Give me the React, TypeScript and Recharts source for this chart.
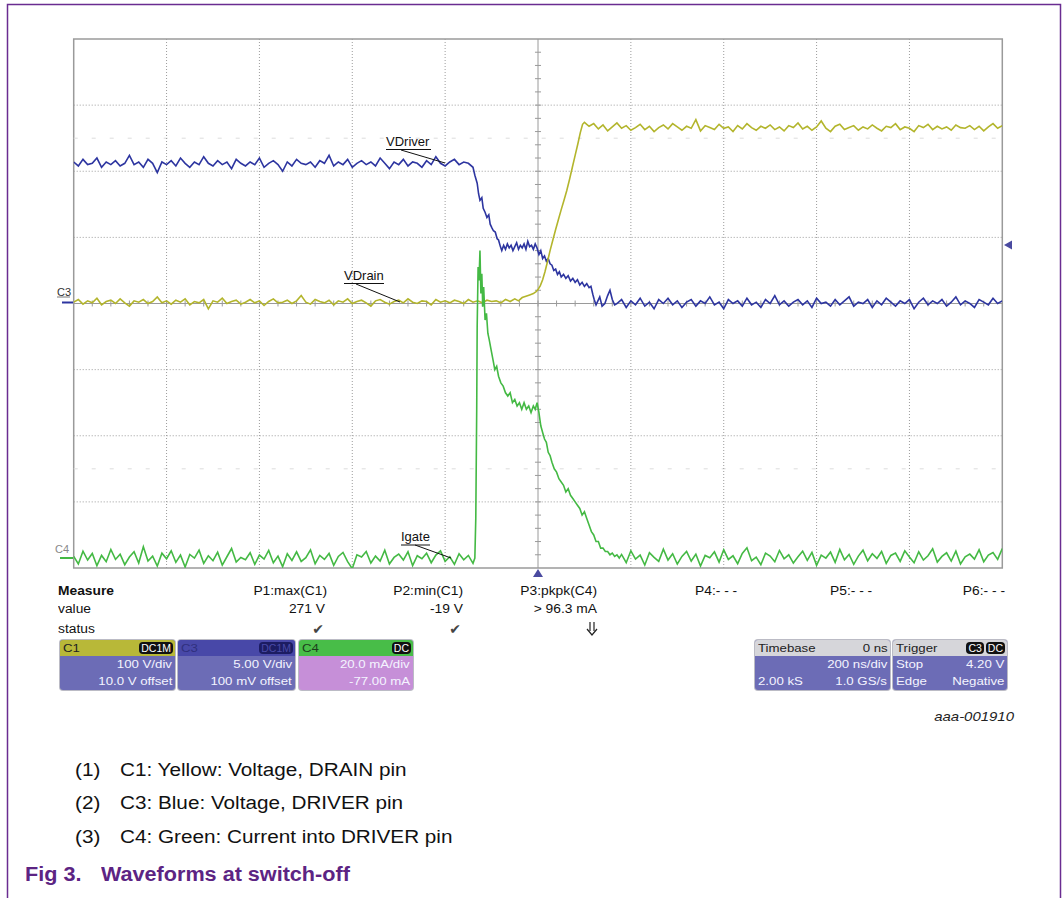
import React from "react";
import { LineChart, Line, XAxis, YAxis, ReferenceLine, ReferenceArea } from "recharts";

// scope capture: 200 ns/div, trigger at centre, 10 ns between stored points
const SAMPLE_NS = 10;
const timeRange = [-1000, 1000];
const divRange = [-4, 4];
const gridTimes = [-800, -600, -400, -200, 200, 400, 600, 800];
const gridDivs = [-3, -2, -1, 1, 2, 3];
const faintDivs = [2.5, -2.5];
const minorTimes = Array.from({ length: 49 }, (_, i) => -960 + i * 40);
const minorDivs = Array.from({ length: 39 }, (_, i) => -3.8 + i * 0.2);

// channel settings from the readout
const C1_SCALE = 100; // V/div
const C1_OFFSET = 10; // V
const C3_SCALE = 5; // V/div
const C3_OFFSET = 0.1; // V
const C4_SCALE = 20; // mA/div
const C4_OFFSET = -77; // mA

// C3 blue, VDriver (V)
const c3Pre = [
  10.6, 10.3, 10.8, 10.4, 10.5, 10.9, 10.2, 10.6, 10.4, 10.7,
  10.3, 10.5, 11.1, 10.4, 10.6, 10.2, 10.8, 10.5, 9.8, 10.6,
  10.4, 10.7, 10.3, 10.9, 10.5, 10.2, 10.6, 10.4, 11.0, 10.5,
  10.3, 10.7, 10.4, 10.6, 10.1, 10.8, 10.5, 10.3, 10.6, 10.4,
  10.9, 10.2, 10.5, 10.7, 10.4, 9.9, 10.6, 10.3, 10.8, 10.5,
  10.4, 10.6, 10.2, 10.7, 10.5, 11.1, 10.3, 10.6, 10.4, 10.8,
  10.2, 10.5, 10.7, 10.4, 10.6, 10.3, 10.9, 10.5, 10.1, 10.6,
  10.4, 10.8, 10.3, 10.6, 10.5, 10.2, 10.7, 10.4, 11.0, 10.5,
  10.3, 10.6, 10.8, 10.4, 10.6, 10.5,
];
const c3MidT = [
  -140, -136, -131, -128, -125, -121, -118, -114, -110, -106,
  -103, -99, -96, -92, -88, -85, -81, -78, -74, -70,
  -66, -62, -58, -54, -50, -46, -42, -38, -34, -30,
  -26, -22, -18, -14, -10, -6, -2, 2, 6, 10,
  14, 18, 22, 26, 30, 34, 38, 42, 46, 50,
  55, 60, 65, 70, 75, 80, 85, 90, 95, 100,
  105, 110, 114, 118, 121, 125, 129, 133, 138, 144,
  150, 155, 160, 165,
];
const c3MidV = [
  10.2, 9.6, 9.0, 8.2, 7.7, 7.9, 7.1, 6.8, 6.4, 6.6,
  5.9, 5.6, 5.4, 5.3, 4.8, 4.7, 4.2, 3.9, 4.3, 4.0,
  4.4, 4.1, 4.3, 3.9, 4.2, 4.5, 4.0, 4.3, 4.1, 4.4,
  4.0, 4.6, 4.2, 4.3, 4.0, 4.4, 4.1, 3.6, 3.9, 3.3,
  3.5, 3.1, 3.3, 2.9, 2.8, 2.4, 2.5, 2.1, 2.3, 1.9,
  2.1, 1.8, 2.0, 1.6, 1.8, 1.5, 1.7, 1.3, 1.5, 1.2,
  1.4, 1.1, 1.2, 0.6, 0.2, -0.2, 0.1, 0.4, -0.3, -0.1,
  0.5, 0.9, 0.2, -0.2,
];
const c3Post = [
  -0.1, 0.2, -0.4, 0.1, -0.2, 0.3, -0.3, 0.0, -0.5, 0.2,
  -0.1, 0.3, -0.2, 0.1, -0.4, 0.0, 0.2, -0.3, 0.1, -0.1,
  0.4, -0.2, 0.0, -0.5, 0.2, -0.1, 0.1, -0.3, 0.3, -0.2,
  0.0, -0.4, 0.2, -0.1, 0.5, -0.2, 0.1, -0.3, 0.0, 0.2,
  -0.2, 0.1, -0.4, 0.3, -0.1, 0.0, -0.3, 0.2, -0.2, 0.1,
  0.4, -0.3, 0.0, -0.1, 0.2, -0.4, 0.1, -0.2, 0.3, 0.0,
  -0.3, 0.1, -0.1, 0.2, -0.5, 0.0, 0.3, -0.2, 0.1, -0.1,
  0.2, -0.3, 0.0, 0.4, -0.2, 0.1, -0.1, -0.4, 0.2, 0.0,
  -0.2, 0.3, -0.1, 0.1,
];

// C1 yellow, VDrain (V)
const c1Pre = [
  -8, -4, -11, -6, -9, -2, -12, -7, -5, -10,
  -3, -9, -14, -6, -8, -4, -10, -7, 0, -9,
  -6, -11, -5, -8, -3, -12, -7, -9, -4, -18,
  -6, -8, -2, -10, -7, -5, -11, -8, -4, -9,
  -6, -13, -7, -3, -9, -8, -5, -10, -6, 2,
  -8, -11, -4, -7, -9, -5, -12, -6, -8, -3,
  -10, -7, -5, -9, -14, -6, -4, -8, -11, -7,
  -5, -9, -3, -8, -10, -6, -7, -12, -4, -8,
  -6, -9, -5, -7, -10, -4, -8, -6, -9, -5, -7,
];
const c1MidT = [
  -90, -80, -70, -60, -50, -42, -34, -26, -18, -10,
  -4, 0, 5, 10, 15, 20, 26, 32, 38, 44,
  50, 56, 62, 68, 74, 80, 86, 91, 96, 100,
];
const c1MidV = [
  -6, -9, -4, -7, -3, -6, -1, 1, 3, 5,
  8, 11, 17, 26, 38, 52, 70, 86, 102, 117,
  132, 146, 161, 178, 196, 214, 232, 248, 261, 264,
];
const c1Post = [
  258, 262, 254, 260, 251, 257, 263, 255, 259, 252,
  256, 261, 253, 258, 250, 256, 260, 254, 262, 257,
  252, 258, 255, 268, 251, 259, 256, 253, 261, 255,
  257, 250, 259, 254, 262, 256, 252, 258, 255, 260,
  253, 257, 251, 259, 256, 263, 254, 258, 252, 257,
  266, 255, 250, 258, 261, 253, 256, 259, 252, 257,
  254, 260, 255, 251, 258, 256, 262, 253, 257, 255,
  250, 259, 256, 261, 253, 258, 254, 257, 252, 260,
  256, 255, 259, 253, 258, 251, 257, 262, 255, 259,
];

// C4 green, Igate (mA)
const c4Pre = [
  0.5, -1.8, 2.1, -0.6, 1.4, -2.3, 0.8, -1.1, 2.6, -0.4,
  1.2, -2.0, 0.3, 1.9, -1.5, 3.4, -0.9, 0.6, -2.4, 1.5,
  -0.2, 2.2, -1.3, 0.9, -2.7, 1.1, 0.0, 2.4, -1.6, 0.7,
  -0.8, 1.8, -2.1, 0.4, 2.9, -1.2, 0.2, -0.5, 1.6, -1.9,
  0.9, -0.3, 2.3, -1.4, 0.6, -2.6, 1.3, -0.7, 1.9, -1.0,
  0.1, 2.5, -1.7, 0.8, -0.4, 1.4, -2.2, 0.5, 1.7, -1.1,
  -3.2, 1.0, 0.3, 2.0, -1.5, 0.6, -0.9, 2.4, -1.8, 0.2,
  1.2, -0.6, 1.9, -2.3, 0.7, -0.2, 1.5, -1.4, 0.9, 2.2,
  -1.0, 0.4, -1.9, 1.3, -0.5, 0.8, -1.6,
];
const c4MidT = [
  -136, -134, -132, -131, -129, -127, -125, -123, -121, -119,
  -117, -114, -111, -108, -105, -101, -97, -93, -89, -85,
  -80, -75, -70, -65, -60, -55, -50, -45, -40, -35,
  -30, -25, -20, -15, -10, -6, -2, 2, 6, 10,
  14, 18, 22, 26, 30, 35, 40, 45, 50, 55,
  60, 65, 70, 75, 80, 85, 90, 95, 100, 105,
  110, 115, 120, 125, 130, 135, 140, 145, 150, 155,
  160, 165, 170, 175,
];
const c4MidV = [
  0, 12, 45, 70, 88, 84, 93, 80, 86, 76,
  82, 72, 74, 68, 66, 63, 60, 57, 58, 55,
  53, 52, 50, 49, 50, 47, 48, 46, 47, 45,
  47, 45, 46, 44, 46, 45, 47, 44, 40, 38,
  36, 35, 32, 31, 29, 27, 26, 24, 23, 22,
  20, 21, 19, 18, 17, 16, 15, 13, 14, 12,
  10, 8, 7, 5, 5, 3, 3, 2, 2, 1,
  1.5, 0.5, 1, 0,
];
const c4Post = [
  1.1, -1.4, 2.2, -0.3, 0.9, -2.1, 1.6, 0.2, -1.0, 2.7,
  -0.6, 1.3, -1.8, 0.5, 2.0, -0.9, 1.2, -2.4, 0.8, 0.1,
  1.9, -1.2, 2.5, -0.4, 0.7, -1.7, 1.4, 3.1, -0.8, 0.3,
  -2.0, 1.5, 0.6, -1.1, 2.3, -0.2, 1.0, -1.5, 0.4, 2.1,
  -0.7, 1.7, -2.2, 0.9, 0.0, 1.8, -1.3, 2.6, -0.5, 1.1,
  -1.9, 0.6, 2.4, -0.8, 1.3, -0.1, 2.0, -1.6, 0.8, 1.5,
  -1.0, 2.2, 0.3, -1.4, 1.9, -0.6, 0.7, 2.8, -1.2, 0.5,
  1.6, -0.9, 2.1, -1.8, 0.4, 1.2, -0.3, 2.5, -1.1, 0.9,
  1.7, -0.4, 2.9,
];

type Pt = { t: number; y: number };

function buildTrace(
  preStart: number, pre: number[],
  midT: number[], midV: number[],
  postStart: number, post: number[],
  scale: number, offset: number
): Pt[] {
  const raw = [
    ...pre.map((v, i) => ({ t: preStart + i * SAMPLE_NS, v })),
    ...midT.map((t, i) => ({ t, v: midV[i] })),
    ...post.map((v, i) => ({ t: postStart + i * SAMPLE_NS, v })),
  ];
  return raw.map((p) => ({ t: p.t, y: (p.v + offset) / scale }));
}

const c3Trace = buildTrace(-1000, c3Pre, c3MidT, c3MidV, 170, c3Post, C3_SCALE, C3_OFFSET);
const c1Trace = buildTrace(-1000, c1Pre, c1MidT, c1MidV, 110, c1Post, C1_SCALE, C1_OFFSET);
const c4Trace = buildTrace(-1000, c4Pre, c4MidT, c4MidV, 180, c4Post, C4_SCALE, C4_OFFSET);

const BLUE = "#2d35a0";
const YELLOW = "#b3b52c";
const GREEN = "#44b944";
const FONT = "'Liberation Sans', Arial, sans-serif";
const SYM_FONT = "'DejaVu Sans', sans-serif";
const SX = 1.15;

// plot rectangle on the page
const PLOT_L = 73.7;
const PLOT_T = 39;
const PLOT_W = 928.6;
const PLOT_H = 529;
const CH_L = 40;
const CH_T = 20;
const CH_W = 1000;
const CH_H = 570;

function Txt({
  x, y, children, align = "left", size = 12, weight = 400, color = "#111", italic = false, sx = SX, family,
}: any) {
  const tr =
    align === "right"
      ? `translateX(-100%) scaleX(${sx})`
      : align === "center"
      ? `translateX(-50%) scaleX(${sx})`
      : `scaleX(${sx})`;
  return (
    <div
      style={{
        position: "absolute",
        left: x,
        top: y - size / 2,
        fontSize: size,
        lineHeight: `${size}px`,
        fontWeight: weight,
        fontStyle: italic ? "italic" : "normal",
        fontFamily: family || FONT,
        color,
        whiteSpace: "nowrap",
        transform: tr,
        transformOrigin: align === "right" ? "right center" : align === "center" ? "center" : "left center",
      }}
    >
      {children}
    </div>
  );
}

function Badge({ text, bg = "#111", color = "#fff" }: any) {
  return (
    <span
      style={{
        background: bg,
        color,
        borderRadius: 4,
        padding: "0 2px",
        fontSize: 10.5,
        lineHeight: "12px",
        height: 12,
        display: "inline-block",
        marginLeft: 2,
      }}
    >
      {text}
    </span>
  );
}

function ScopeBox({ x, w, headBg, headColor, headLeft, headRight, bodyBg, lines }: any) {
  return (
    <div
      style={{
        position: "absolute",
        left: x,
        top: 640,
        width: w,
        height: 50,
        borderRadius: 3,
        overflow: "hidden",
        background: bodyBg,
        boxShadow: "0 0 0 1px rgba(60,60,90,0.35)",
        fontSize: 11.5,
      }}
    >
      <div
        style={{
          height: 16,
          background: headBg,
          color: headColor,
          display: "flex",
          justifyContent: "space-between",
          alignItems: "center",
          padding: "0 2px 0 3px",
        }}
      >
        <span style={{ transform: `scaleX(${SX})`, transformOrigin: "left center" }}>{headLeft}</span>
        <span>{headRight}</span>
      </div>
      {lines.map((ln: string[], i: number) => (
        <div
          key={i}
          style={{
            height: 17,
            color: "#f4f4ff",
            display: "flex",
            justifyContent: "space-between",
            alignItems: "center",
            padding: "0 3px",
            lineHeight: "17px",
          }}
        >
          <span style={{ transform: `scaleX(${SX})`, transformOrigin: "left center" }}>{ln[0]}</span>
          <span style={{ transform: `scaleX(${SX})`, transformOrigin: "right center" }}>{ln[1]}</span>
        </div>
      ))}
    </div>
  );
}

export default function App() {
  const margin = {
    left: PLOT_L - CH_L,
    top: PLOT_T - CH_T,
    right: CH_W - (PLOT_L - CH_L) - PLOT_W,
    bottom: CH_H - (PLOT_T - CH_T) - PLOT_H,
  };
  const tickH = 0.045;
  const tickT = 6.5;

  return (
    <div
      style={{
        position: "absolute",
        left: 0,
        top: 0,
        width: 1063,
        height: 898,
        background: "#fff",
        fontFamily: FONT,
        overflow: "hidden",
      }}
    >
      <div style={{ position: "absolute", left: CH_L, top: CH_T }}>
        <LineChart width={CH_W} height={CH_H} margin={margin}>
          <XAxis type="number" dataKey="t" domain={timeRange} hide allowDataOverflow />
          <YAxis type="number" domain={divRange} hide allowDataOverflow />
          {faintDivs.map((d) => (
            <ReferenceLine key={"f" + d} y={d} stroke="#dcdcdc" strokeDasharray="4 14" />
          ))}
          {gridTimes.map((t) => (
            <ReferenceLine key={"gx" + t} x={t} stroke="#9c9c9c" strokeDasharray="1 2" />
          ))}
          {gridDivs.map((d) => (
            <ReferenceLine key={"gy" + d} y={d} stroke="#9c9c9c" strokeDasharray="1 2" />
          ))}
          <ReferenceLine x={0} stroke="#9a9a9a" />
          <ReferenceLine y={0} stroke="#9a9a9a" />
          {minorTimes.map((t) => (
            <ReferenceLine
              key={"mx" + t}
              segment={[{ x: t, y: -tickH }, { x: t, y: tickH }]}
              stroke="#9a9a9a"
            />
          ))}
          {minorDivs.map((d) => (
            <ReferenceLine
              key={"my" + d}
              segment={[{ x: -tickT, y: d }, { x: tickT, y: d }]}
              stroke="#9a9a9a"
            />
          ))}
          <ReferenceArea
            x1={timeRange[0]}
            x2={timeRange[1]}
            y1={divRange[0]}
            y2={divRange[1]}
            fill="none"
            stroke="#9a9a9a"
            strokeWidth={1.5}
          />
          <Line data={c3Trace} dataKey="y" type="linear" stroke={BLUE} strokeWidth={1.6} dot={false} isAnimationActive={false} />
          <Line data={c1Trace} dataKey="y" type="linear" stroke={YELLOW} strokeWidth={1.6} dot={false} isAnimationActive={false} />
          <Line data={c4Trace} dataKey="y" type="linear" stroke={GREEN} strokeWidth={1.6} dot={false} isAnimationActive={false} />
        </LineChart>
      </div>

      {/* frame, channel markers, annotations */}
      <svg width={1063} height={898} style={{ position: "absolute", left: 0, top: 0, pointerEvents: "none" }}>
        <path d="M7.5 898 V4.5 H1060.5 V898" fill="none" stroke="#6a2c91" strokeWidth={1.5} />
        <text x={57} y={296} fontSize={11} fill="#333" fontFamily={FONT}>C3</text>
        <line x1={57} y1={297} x2={70} y2={297} stroke="#555" strokeWidth={0.8} />
        <line x1={62} y1={302.5} x2={73} y2={302.5} stroke={BLUE} strokeWidth={2} />
        <text x={55} y={553} fontSize={11} fill="#888" fontFamily={FONT}>C4</text>
        <line x1={60} y1={558} x2={73} y2={558} stroke={GREEN} strokeWidth={2} />
        <polygon points="1004,245 1012,240.5 1012,249.5" fill="#4a4aa0" />
        <polygon points="538,569 533,577 543,577" fill="#4a4aa0" />

        {/* status arrow for P3 */}
        <g stroke="#222" strokeWidth={1.2} fill="none">
          <line x1={590} y1={622} x2={590} y2={631} />
          <line x1={594} y1={622} x2={594} y2={631} />
          <polyline points="587,629 592,635 597,629" />
        </g>

        <g fontFamily={FONT} fontSize={13} fill="#111">
          <text x={386} y={146}>VDriver</text>
          <line x1={386} y1={149.5} x2={431} y2={149.5} stroke="#111" />
          <line x1={401} y1={150} x2={445} y2={163} stroke="#111" />
          <text x={344} y={280}>VDrain</text>
          <line x1={344} y1={283.5} x2={384} y2={283.5} stroke="#111" />
          <line x1={356} y1={284} x2={400} y2={302} stroke="#111" />
          <text x={401} y={541}>Igate</text>
          <line x1={401} y1={545} x2={430} y2={545} stroke="#111" />
          <line x1={415} y1={545} x2={451} y2={558} stroke="#111" />
        </g>
      </svg>

      {/* measurement table */}
      <Txt x={58} y={591} weight={700} size={12}>Measure</Txt>
      <Txt x={58} y={609} size={12}>value</Txt>
      <Txt x={58} y={629} size={12}>status</Txt>
      <Txt x={327} y={591} align="right">P1:max(C1)</Txt>
      <Txt x={325} y={609} align="right">271 V</Txt>
      <Txt x={318} y={629} align="center" size={14} color="#444" sx={1} family={SYM_FONT}>✔</Txt>
      <Txt x={463} y={591} align="right">P2:min(C1)</Txt>
      <Txt x={463} y={609} align="right">-19 V</Txt>
      <Txt x={455} y={629} align="center" size={14} color="#444" sx={1} family={SYM_FONT}>✔</Txt>
      <Txt x={597} y={591} align="right">P3:pkpk(C4)</Txt>
      <Txt x={597} y={609} align="right">&gt; 96.3 mA</Txt>
      <Txt x={695} y={591}>P4:- - -</Txt>
      <Txt x={830} y={591}>P5:- - -</Txt>
      <Txt x={1005} y={591} align="right">P6:- - -</Txt>

      <ScopeBox
        x={60} w={115}
        headBg="#b8b838" headColor="#222" headLeft="C1" headRight={<Badge text="DC1M" />}
        bodyBg="#6c6cb6"
        lines={[["", "100 V/div"], ["", "10.0 V offset"]]}
      />
      <ScopeBox
        x={178} w={117}
        headBg="#4848a8" headColor="#30307e" headLeft="C3" headRight={<Badge text="DC1M" bg="#1c1c62" color="#4a4aa8" />}
        bodyBg="#6c6cb6"
        lines={[["", "5.00 V/div"], ["", "100 mV offset"]]}
      />
      <ScopeBox
        x={299} w={114}
        headBg="#48bd48" headColor="#1d3d1d" headLeft="C4" headRight={<Badge text="DC" />}
        bodyBg="#c68fd8"
        lines={[["", "20.0 mA/div"], ["", "-77.00 mA"]]}
      />
      <ScopeBox
        x={755} w={135}
        headBg="#d6d6da" headColor="#222" headLeft="Timebase" headRight={<span style={{ transform: `scaleX(${SX})`, display: "inline-block", transformOrigin: "right center" }}>0 ns</span>}
        bodyBg="#6c6cb6"
        lines={[["", "200 ns/div"], ["2.00 kS", "1.0 GS/s"]]}
      />
      <ScopeBox
        x={893} w={114}
        headBg="#d6d6da" headColor="#222" headLeft="Trigger"
        headRight={<span><Badge text="C3" /><Badge text="DC" /></span>}
        bodyBg="#6c6cb6"
        lines={[["Stop", "4.20 V"], ["Edge", "Negative"]]}
      />

      <Txt x={1014} y={716} align="right" italic size={13} color="#222">aaa-001910</Txt>

      {/* notes and caption */}
      <Txt x={75} y={770} size={18}>(1)</Txt>
      <Txt x={120} y={770} size={18}>C1: Yellow: Voltage, DRAIN pin</Txt>
      <Txt x={75} y={803} size={18}>(2)</Txt>
      <Txt x={120} y={803} size={18}>C3: Blue: Voltage, DRIVER pin</Txt>
      <Txt x={75} y={837} size={18}>(3)</Txt>
      <Txt x={120} y={837} size={18}>C4: Green: Current into DRIVER pin</Txt>
      <Txt x={25} y={874} size={20} weight={700} color="#5c2483" sx={1.08}>Fig 3.</Txt>
      <Txt x={101} y={874} size={20} weight={700} color="#5c2483" sx={1.08}>Waveforms at switch-off</Txt>
    </div>
  );
}
